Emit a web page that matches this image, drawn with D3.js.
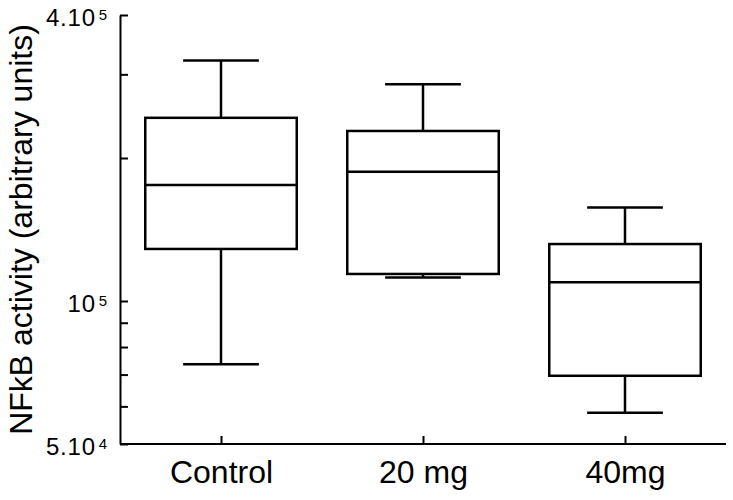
<!DOCTYPE html>
<html>
<head>
<meta charset="utf-8">
<script src="https://cdn.jsdelivr.net/npm/d3@7"></script>
<style>
  html, body { margin: 0; padding: 0; background: #fff; }
  svg { display: block; font-family: "Liberation Sans", Arial, sans-serif; }
</style>
</head>
<body>
<svg id="chart" width="733" height="500"></svg>
<script>
// ---- data ----
const categories   = ["Control", "20 mg", "40mg"];
const whiskerLow   = [7.36e4, 1.12e5, 5.82e4];
const q1           = [1.287e5, 1.14e5, 6.96e4];
const median       = [1.755e5, 1.872e5, 1.095e5];
const q3           = [2.43e5, 2.28e5, 1.318e5];
const whiskerHigh  = [3.21e5, 2.86e5, 1.573e5];

const yTickValues  = [5e4, 6e4, 7e4, 8e4, 9e4, 1e5, 2e5, 3e5, 4e5];
const yLabelValues = [5e4, 1e5, 4e5];
const yLabelMain   = ["5.10", "10", "4.10"];
const yLabelExp    = ["4", "5", "5"];
const yTitle = "NFkB activity (arbitrary units)";

// ---- layout ----
const svg = d3.select("#chart");
const plotLeft = 120, plotRight = 726, plotTop = 15, plotBottom = 444;

const y = d3.scaleLog().domain([5e4, 4e5]).range([plotBottom, plotTop]);
const x = d3.scalePoint().domain(categories).range([plotLeft, plotRight]).padding(0.5);
const boxW = x.step() * 0.75;
const capW = boxW * 0.5;

const rows = categories.map((c, i) => ({
  c, lo: whiskerLow[i], q1: q1[i], med: median[i], q3: q3[i], hi: whiskerHigh[i]
}));

const sw = 2.5;

// boxes
const g = svg.append("g");
rows.forEach(d => {
  const cx = x(d.c);
  g.append("line").attr("x1", cx).attr("x2", cx).attr("y1", y(d.q3)).attr("y2", y(d.hi))
    .attr("stroke", "#000").attr("stroke-width", sw);
  g.append("line").attr("x1", cx).attr("x2", cx).attr("y1", y(d.q1)).attr("y2", y(d.lo))
    .attr("stroke", "#000").attr("stroke-width", sw);
  g.append("line").attr("x1", cx - capW / 2).attr("x2", cx + capW / 2).attr("y1", y(d.hi)).attr("y2", y(d.hi))
    .attr("stroke", "#000").attr("stroke-width", sw);
  g.append("line").attr("x1", cx - capW / 2).attr("x2", cx + capW / 2).attr("y1", y(d.lo)).attr("y2", y(d.lo))
    .attr("stroke", "#000").attr("stroke-width", sw);
  g.append("rect").attr("x", cx - boxW / 2).attr("width", boxW)
    .attr("y", y(d.q3)).attr("height", y(d.q1) - y(d.q3))
    .attr("fill", "#fff").attr("stroke", "#000").attr("stroke-width", sw);
  g.append("line").attr("x1", cx - boxW / 2).attr("x2", cx + boxW / 2).attr("y1", y(d.med)).attr("y2", y(d.med))
    .attr("stroke", "#000").attr("stroke-width", sw);
});

// y axis
const yAxis = svg.append("g").attr("transform", `translate(${plotLeft},0)`)
  .call(d3.axisLeft(y).tickValues(yTickValues).tickSize(-8).tickSizeOuter(0).tickFormat(""));
yAxis.selectAll("path, line").attr("stroke", "#000").attr("stroke-width", 2);

// y labels with superscript exponents
yLabelValues.forEach((v, i) => {
  const t = svg.append("text")
    .attr("x", 108).attr("y", y(v) + 11)
    .attr("text-anchor", "end")
    .attr("font-size", 24).attr("letter-spacing", 0.8).attr("fill", "#000");
  t.append("tspan").text(yLabelMain[i]);
  t.append("tspan").attr("dx", 3).attr("dy", -6).attr("font-size", 15).text(yLabelExp[i]);
});

// x axis
const xAxis = svg.append("g").attr("transform", `translate(0,${plotBottom})`)
  .call(d3.axisBottom(x).tickSize(-8).tickSizeOuter(0).tickPadding(16));
xAxis.select(".domain").attr("d", `M${plotLeft},0H${plotRight}`);
xAxis.selectAll("path, line").attr("stroke", "#000").attr("stroke-width", 2);
xAxis.selectAll("text").attr("font-size", 32).attr("fill", "#000")
  .attr("font-family", "'Liberation Sans', Arial, sans-serif");

// y title
svg.append("text")
  .attr("transform", `translate(32,${(plotTop + plotBottom) / 2}) rotate(-90)`)
  .attr("text-anchor", "middle")
  .attr("font-size", 32).attr("fill", "#000")
  .text(yTitle);
</script>
</body>
</html>
